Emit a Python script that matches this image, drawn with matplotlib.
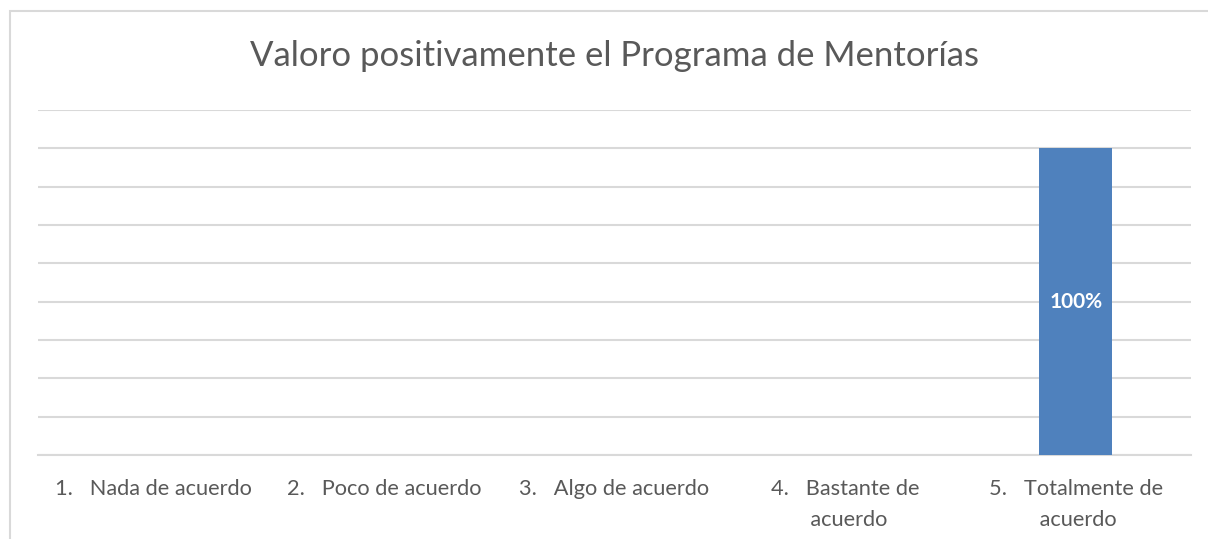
import matplotlib
matplotlib.use("Agg")
from matplotlib import pyplot as plt
from matplotlib.patches import Rectangle

# data
categories = ["1.   Nada de acuerdo", "2.   Poco de acuerdo", "3.   Algo de acuerdo",
              "4.   Bastante de\n       acuerdo", "5.   Totalmente de\n         acuerdo"]
values = [0, 0, 0, 0, 1.0]
bar_labels = ["", "", "", "", "100%"]
y_ticks = [i * 0.125 for i in range(10)]

plt.rcParams['font.family'] = ['Lato', 'DejaVu Sans']
grey = '#595959'
grid = '#D9D9D9'
blue = '#4F81BD'

fig = plt.figure(figsize=(12.08, 5.39), dpi=100)
# outer chart border
fig.patches.append(Rectangle((9.5 / 1208, -0.1), 1.2, 1 - 11 / 539 + 0.1,
                             transform=fig.transFigure, fill=False,
                             edgecolor=grid, linewidth=1.5))

ax = fig.add_axes([38 / 1208, 1 - 455 / 539, (1191 - 38) / 1208, (455 - 110) / 539])
x = range(len(categories))
bars = ax.bar(x, values, width=0.317, color=blue, zorder=3)

for b, lab in zip(bars, bar_labels):
    if lab:
        ax.text(b.get_x() + b.get_width() / 2, b.get_height() / 2, lab,
                ha='center', va='center', color='white', fontsize=15,
                fontweight='bold', zorder=4)

ax.set_xlim(-0.5, len(categories) - 0.5)
ax.set_ylim(0, y_ticks[-1])
ax.set_yticks(y_ticks)
ax.set_yticklabels([])
ax.tick_params(axis='y', length=0)
ax.yaxis.grid(True, color=grid, linewidth=1.5)
ax.set_axisbelow(True)

ax.set_xticks(list(x))
ax.set_xticklabels(categories, fontsize=15.7, color=grey, linespacing=1.7,
                   multialignment='left')
ax.tick_params(axis='x', length=0, pad=17)

for s in ['top', 'left', 'right']:
    ax.spines[s].set_visible(False)
ax.spines['bottom'].set_color(grid)
ax.spines['bottom'].set_linewidth(1.5)

fig.text(0.5 * (253 + 975) / 1208, 1 - 56 / 539, "Valoro positivamente el Programa de Mentorías",
         ha='center', va='center', fontsize=25, color=grey)

fig.savefig("out.png", dpi=100)
